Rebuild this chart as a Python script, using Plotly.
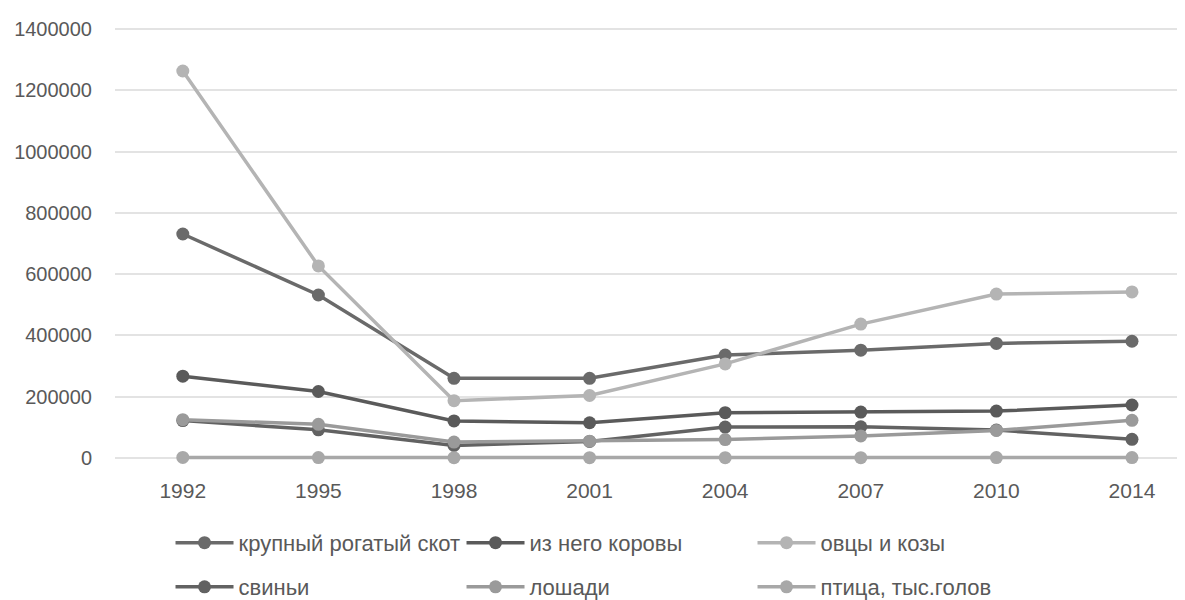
import plotly.graph_objects as go

years = ["1992", "1995", "1998", "2001", "2004", "2007", "2010", "2014"]

cattle = [731000, 532000, 260000, 260000, 336000, 352000, 374000, 381000]
cows = [267000, 217000, 121000, 115000, 148000, 150000, 153000, 173000]
sheep_goats = [1263000, 627000, 187000, 204000, 307000, 437000, 535000, 542000]
pigs = [122000, 92000, 41000, 54000, 101000, 102000, 91000, 61000]
horses = [125000, 110000, 52000, 55000, 60000, 72000, 90000, 123000]
poultry = [1800, 1300, 900, 1000, 1100, 1200, 1300, 1400]

names = ["крупный рогатый скот", "из него коровы", "овцы и козы",
         "свиньи", "лошади", "птица, тыс.голов"]
series = [cattle, cows, sheep_goats, pigs, horses, poultry]
colors = ["#6a6a6a", "#5a5a5a", "#b4b4b4", "#626262", "#9a9a9a", "#a8a8a8"]
legend_ids = ["legend", "legend", "legend", "legend2", "legend2", "legend2"]

fig = go.Figure()
for name, vals, col, lg in zip(names, series, colors, legend_ids):
    fig.add_trace(go.Scatter(
        x=years, y=vals, name=name, mode="lines+markers",
        line=dict(color=col, width=3.5),
        marker=dict(color=col, size=13),
        legend=lg,
    ))

font_family = "Liberation Sans, Arial, sans-serif"
text_color = "#595959"

legend_common = dict(
    orientation="h", xanchor="left", yanchor="middle",
    font=dict(family=font_family, size=22, color=text_color),
    bgcolor="rgba(0,0,0,0)", itemwidth=58,
    entrywidthmode="pixels", entrywidth=218,
    traceorder="normal", itemclick=False,
)

# the page body adds an 8px offset, so the figure is laid out 8px up/left
fig.update_layout(
    width=1185, height=600,
    margin=dict(l=107, r=0, t=12, b=138, autoexpand=False),
    paper_bgcolor="white", plot_bgcolor="white",
    font=dict(family=font_family, size=21, color=text_color),
    xaxis=dict(
        type="category", range=[-0.5, 7.45],
        showgrid=False, showline=False, zeroline=False,
        ticks="", ticklabelstandoff=6,
        tickfont=dict(size=21, color=text_color),
    ),
    yaxis=dict(
        range=[-39165, 1429500], tickmode="array",
        tickvals=[0, 200000, 400000, 600000, 800000, 1000000, 1200000, 1400000],
        ticktext=["0", "200000", "400000", "600000", "800000", "1000000", "1200000", "1400000"],
        showgrid=True, gridcolor="#e3e3e3", gridwidth=1.5,
        zeroline=False, showline=False, ticks="",
        ticklabelstandoff=22,
        tickfont=dict(size=20, color=text_color),
    ),
    legend=dict(x=0.0515, y=-0.162, **legend_common),
    legend2=dict(x=0.0515, y=-0.26, **legend_common),
    showlegend=True,
)

fig.write_html("out.html")
